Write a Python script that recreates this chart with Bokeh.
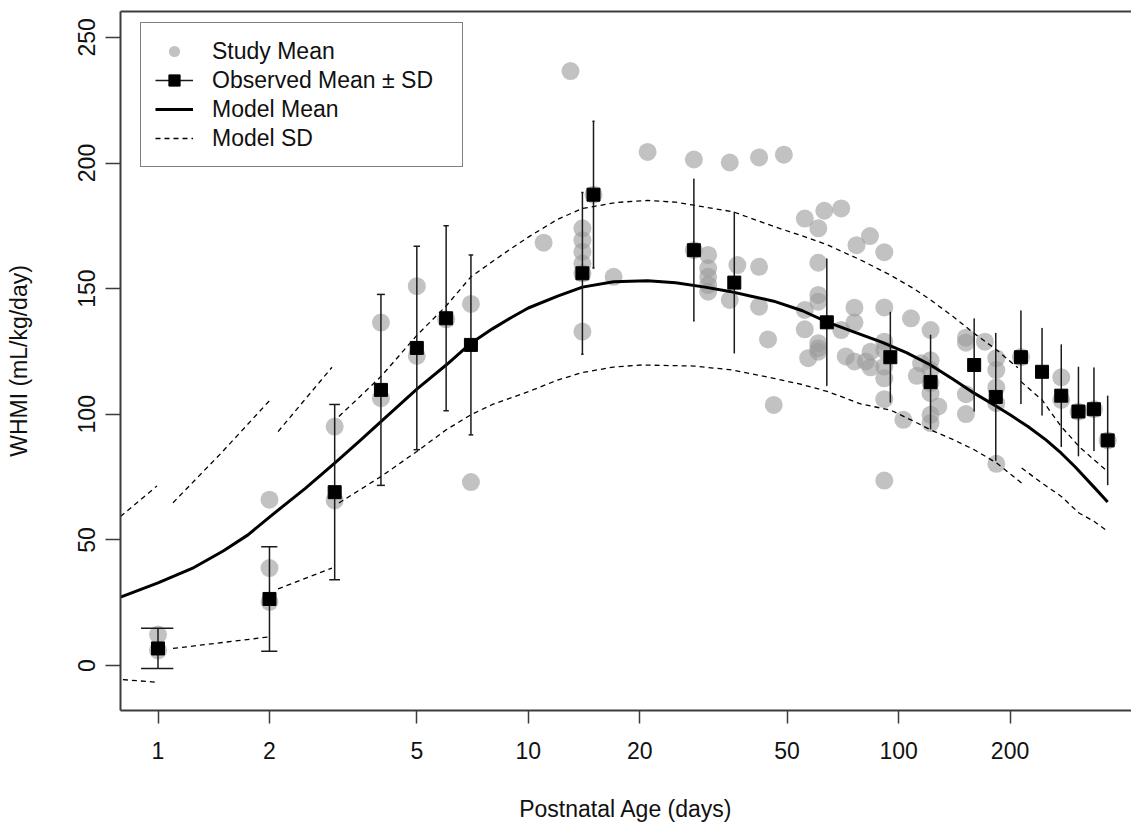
import math
from bokeh.plotting import figure
from bokeh.models import (Range1d, FixedTicker, LogAxis, Legend, LegendItem,
                          CustomJSTickFormatter)
from bokeh.embed import file_html
from bokeh.resources import INLINE

FONT = "Liberation Sans"

# ---------------- data ----------------
study_days = [1, 1,
              2, 2, 2,
              3, 3,
              4, 4,
              5, 5,
              6,
              7, 7,
              11, 13,
              14, 14, 14, 14, 14, 14,
              15, 17, 21,
              28, 28,
              30.6, 30.6, 30.6, 30.6, 30.6,
              35, 35, 36.7,
              42, 42, 42, 44.4, 46, 49,
              55.8, 55.8, 55.8, 57,
              60.7, 60.7, 60.7, 60.7, 60.7, 60.7, 60.7,
              63, 70, 70, 72,
              76, 76, 76, 77, 81.6, 83.7, 84, 84,
              91.5, 91.5, 91.5, 91.5, 91.5, 91.5, 91.5, 91.5,
              103, 108, 112, 115,
              122, 122, 122, 122, 122, 122, 122, 128,
              152, 152, 152, 152, 171,
              183.6, 183.6, 183.6, 183.6, 183.6,
              214, 275, 275, 306, 337, 367]
study_vals = [12.3, 6.0,
              66.0, 38.8, 25.3,
              95.1, 65.7,
              136.5, 106.4,
              151.0, 123.2,
              137.8,
              143.9, 73.0,
              168.3, 236.6,
              174.0, 169.3, 164.7, 160.0, 156.1, 132.9,
              187.4, 154.7, 204.4,
              201.4, 165.3,
              163.4, 158.1, 154.7, 151.4, 148.8,
              200.2, 145.5, 159.4,
              202.2, 158.7, 142.8, 129.8, 103.7, 203.3,
              177.9, 141.5, 133.8, 122.3,
              174.0, 160.3, 147.5, 144.8, 128.3, 126.3, 124.9,
              181.0, 181.9, 133.5, 123.0,
              142.4, 136.5, 121.0, 167.3, 121.0, 170.9, 124.9, 118.7,
              164.5, 142.5, 128.9, 125.6, 119.0, 114.3, 106.0, 73.6,
              97.8, 138.2, 115.3, 120.3,
              133.5, 121.5, 117.6, 112.4, 108.4, 99.8, 96.5, 103.1,
              130.5, 128.5, 108.0, 100.1, 128.9,
              122.3, 117.6, 110.7, 104.4, 80.3,
              122.7, 114.7, 105.7, 101.0, 102.0, 89.6]

obs_days = [1, 2, 3, 4, 5, 6, 7, 14, 15, 28, 36, 64, 95, 122, 160, 183, 214, 244, 275, 306, 337, 367]
obs_mean = [6.8, 26.5, 69.0, 109.7, 126.4, 138.2, 127.6, 156.1, 187.4, 165.3, 152.4, 136.6,
            122.7, 112.8, 119.6, 106.9, 122.7, 116.9, 107.4, 101.1, 102.0, 89.6]
obs_sd = [8.0, 20.8, 34.9, 38.0, 40.5, 36.8, 35.8, 32.2, 29.2, 28.2, 28.0, 25.3,
          18.0, 18.8, 18.5, 25.4, 18.6, 17.4, 20.4, 17.8, 16.6, 17.8]

mean_days = [0.792, 1, 1.25, 1.5, 1.75, 2, 2.5, 3, 3.5, 4, 5, 6, 7, 8, 9, 10, 12, 14, 17, 21,
             25, 30, 35, 40, 46, 55, 64, 75, 90, 105, 122, 140, 160, 184, 200, 224, 250,
             275, 300, 339, 367]
mean_vals = [27.2, 32.9, 39.0, 45.6, 52.0, 59.1, 70.5, 80.6, 89.3, 97.1, 110.0, 119.6, 128.3,
             134.0, 138.5, 142.3, 147.0, 150.6, 152.7, 153.1, 152.3, 150.6, 148.9, 147.0,
             145.0, 141.2, 136.8, 133.0, 128.7, 124.5, 119.6, 114.0, 108.4, 103.1, 99.8,
             95.0, 89.8, 84.5, 79.0, 70.6, 65.1]

upper_sd_days = [[0.792, 0.994],
                 [1.098, 1.48, 2.0],
                 [2.11, 2.95],
                 [3.08, 4, 5, 6, 7, 8, 9, 10, 12, 14, 17.3, 21, 25, 28, 35.7, 46.3, 55, 64.5,
                  79, 95, 110, 122, 140, 160, 184, 210],
                 [214, 244, 275, 307, 337, 367]]
upper_sd_vals = [[59.3, 71.5],
                 [64.8, 84.5, 105.4],
                 [93.1, 118.7],
                 [99.1, 115.0, 131.4, 143.1, 154.7, 160.8, 166.0, 170.5, 177.6, 181.9, 184.3,
                  185.1, 184.4, 183.2, 180.6, 174.6, 171.0, 167.3, 161.4, 155.4, 150.0, 145.5,
                  139.0, 132.2, 125.6, 118.5],
                 [113.0, 105.7, 95.1, 87.2, 81.9, 77.2]]
lower_sd_days = [[0.804, 0.98],
                 [1.098, 2.0],
                 [2.11, 2.95],
                 [3.08, 4, 5, 6, 7, 8, 10, 12, 14, 17, 20.2, 28, 35.7, 46, 55, 64.5, 79, 95,
                  110, 122, 140, 160, 184, 215],
                 [215, 244, 275, 307, 337, 367]]
lower_sd_vals = [[-5.6, -6.6],
                 [6.8, 11.4],
                 [30.5, 38.8],
                 [64.7, 75.2, 85.2, 93.8, 99.8, 103.9, 109.0, 113.6, 116.6, 118.8, 119.6, 119.2,
                  117.6, 114.3, 111.8, 109.0, 104.1, 101.7, 97.2, 93.8, 90.0, 85.9, 80.6, 72.6],
                 [78.6, 72.6, 67.3, 60.7, 57.4, 53.4]]

x_ticks = [1, 2, 5, 10, 20, 50, 100, 200]
y_ticks = [0, 50, 100, 150, 200, 250]

# ---------------- figure ----------------
AX = "#3c3c3c"
p = figure(width=1131, height=824, x_axis_type="log",
           x_range=Range1d(0.792, 425.6), y_range=Range1d(-17.9, 260.3),
           output_backend="svg", toolbar_location=None,
           min_border_left=120, min_border_right=0, min_border_top=11, min_border_bottom=113)
p.outline_line_color = None
p.xgrid.grid_line_color = None
p.ygrid.grid_line_color = None
p.background_fill_color = "white"
p.border_fill_color = "white"

# study means
r_study = p.scatter(study_days, study_vals, marker="circle", size=18,
                    fill_color="#9a9a9a", fill_alpha=0.6, line_color=None)

# model SD and mean
xs_sd = upper_sd_days + lower_sd_days
ys_sd = upper_sd_vals + lower_sd_vals
r_sd = p.multi_line(xs_sd, ys_sd, line_color="black", line_width=1.3, line_dash="5 4")
r_mean = p.line(mean_days, mean_vals, line_color="black", line_width=3, line_join="round")

# observed mean +- SD
lo = [m - s for m, s in zip(obs_mean, obs_sd)]
hi = [m + s for m, s in zip(obs_mean, obs_sd)]
r_err = p.segment(x0=obs_days, y0=lo, x1=obs_days, y1=hi, line_color="#1a1a1a", line_width=1.5)
cap_l = [d - 0.1 for d in obs_days]
cap_r = [d + 0.1 for d in obs_days]
p.segment(x0=cap_l, y0=lo, x1=cap_r, y1=lo, line_color="#1a1a1a", line_width=1.5)
p.segment(x0=cap_l, y0=hi, x1=cap_r, y1=hi, line_color="#1a1a1a", line_width=1.5)
r_obs = p.scatter(obs_days, obs_mean, marker="square", size=13,
                  fill_color="black", line_color="black")

# ---------------- axes ----------------
xa = p.xaxis[0]
xa.ticker = FixedTicker(ticks=x_ticks, minor_ticks=[])
xa.formatter = CustomJSTickFormatter(code="return String(tick)")
xa.axis_label = "Postnatal Age (days)"
ya = p.yaxis[0]
ya.ticker = FixedTicker(ticks=y_ticks, minor_ticks=[])
ya.axis_label = "WHMI (mL/kg/day)"
ya.major_label_orientation = "vertical"

for ax in (xa, ya):
    ax.axis_line_color = AX
    ax.axis_line_width = 2
    ax.major_tick_line_color = AX
    ax.major_tick_line_width = 1.5
    ax.major_tick_in = 0
    ax.minor_tick_line_color = None
    ax.major_label_text_font = FONT
    ax.major_label_text_font_size = "23px"
    ax.major_label_text_color = "#111111"
    ax.axis_label_text_font = FONT
    ax.axis_label_text_font_size = "23px"
    ax.axis_label_text_font_style = "normal"
    ax.axis_label_text_color = "#111111"

xa.major_tick_out = 13
xa.major_label_standoff = 18
xa.axis_label_standoff = 34
ya.major_tick_out = 15
ya.major_label_standoff = 10
ya.axis_label_standoff = 44

top = LogAxis(ticker=FixedTicker(ticks=[], minor_ticks=[]),
              major_label_text_font_size="0px", major_tick_out=0, major_tick_in=0,
              minor_tick_out=0, minor_tick_in=0, major_label_standoff=0,
              axis_line_color=AX, axis_line_width=2)
p.add_layout(top, "above")

# ---------------- legend ----------------
legend = Legend(items=[
    LegendItem(label="Study Mean", renderers=[r_study]),
    LegendItem(label="Observed Mean \u00b1 SD", renderers=[r_err, r_obs]),
    LegendItem(label="Model Mean", renderers=[r_mean]),
    LegendItem(label="Model SD", renderers=[r_sd]),
], location=(20, 700 - 14 - 143))
legend.label_text_font = FONT
legend.label_text_font_size = "23px"
legend.label_text_color = "#111111"
legend.glyph_width = 38
legend.glyph_height = 28
legend.label_height = 28
legend.label_standoff = 19
legend.label_width = 236
legend.padding = 14
legend.spacing = 1
legend.border_line_color = "black"
legend.border_line_width = 1.5
legend.background_fill_color = "white"
legend.background_fill_alpha = 1.0
p.add_layout(legend, "center")

open("out.html", "w").write(file_html(p, INLINE))
